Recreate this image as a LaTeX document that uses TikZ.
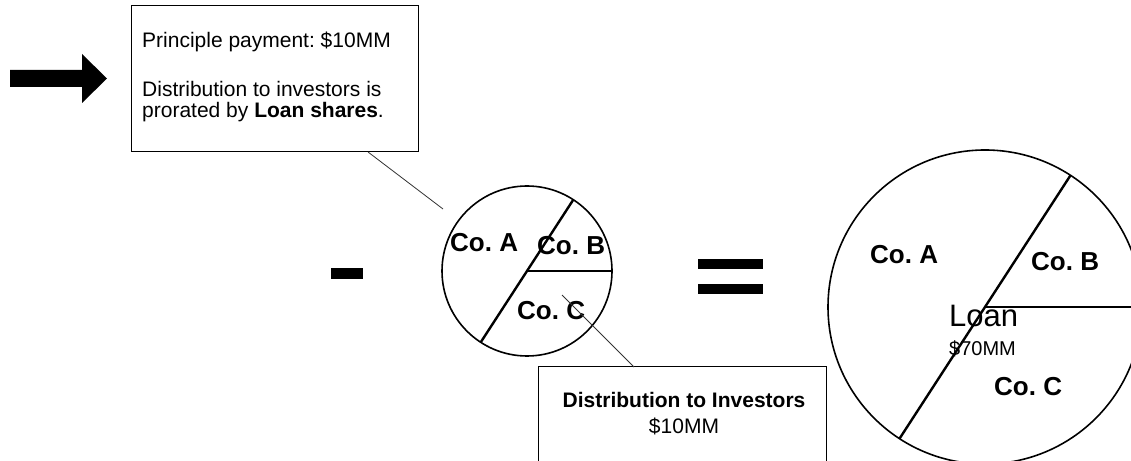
\documentclass[tikz,border=0pt]{standalone}
\usepackage{fontspec}
\setmainfont{Liberation Sans}
\usepackage{tikz}
\frenchspacing

\begin{document}
\begin{tikzpicture} [x = 1pt, y = 1pt,
  box/.style = {draw, line width = 1pt, inner sep = 0, outer sep = 0, anchor = north west},
  pie/.style = {draw, circle, line width = 1.6pt, inner sep = 0, outer sep = 0},
  cut/.style = {line width = 2.4pt},
  lead/.style = {line width = 0.8pt, black!80},
  txt/.style = {inner sep = 0, anchor = base west, font = \fontsize{21}{25}\selectfont},
  co/.style = {inner sep = 0, anchor = base west, font = \fontsize{26}{30}\selectfont\bfseries}]
\path[use as bounding box, clip] (0, 0) rectangle (1131, 460);
% arrow
\fill (10, 390) -- (82, 390) -- (82, 406) -- (107, 381.5) -- (82, 357) -- (82, 373) -- (10, 373) -- cycle;
% payment note
\node[box, minimum width = 287pt, minimum height = 146pt] (pay) at (131, 454) {};
\node[txt] (pay1) at (142, 412) {Principle payment: \$10MM};
\node[txt] (pay2) at (142, 363) {Distribution to investors is};
\node[txt] (pay3) at (142, 342) {prorated by \textbf{Loan shares}.};
% minus and equals
\fill (331, 181) rectangle (363, 192);
\fill (698, 191) rectangle (763, 201);
\fill (698, 166) rectangle (763, 176);
% small pie
\node[pie, minimum size = 170pt] (spie) at (527, 189) {};
\draw[cut] (spie.57) -- (spie.237);
\draw[line width = 1.6pt] (spie.center) -- (spie.east);
\node[co] (sa) at (450, 208) {Co. A};
\node[co] (sb) at (537, 205) {Co. B};
\node[co] (sc) at (517, 140) {Co. C};
% big pie
\node[pie, minimum size = 314pt] (bpie) at (985, 153) {};
\draw[cut] (bpie.57) -- (bpie.237);
\draw[line width = 1.6pt] (bpie.center) -- (bpie.east);
\node[co] (ba) at (870, 196) {Co. A};
\node[co] (bb) at (1031, 189) {Co. B};
\node[co] (bc) at (994, 64) {Co. C};
\node[txt, font = \fontsize{31}{35}\selectfont] (loan) at (949, 133) {Loan};
\node[txt, font = \fontsize{20}{24}\selectfont] (loanamt) at (949, 104) {\$70MM};
% distribution note
\node[box, minimum width = 288pt, minimum height = 130pt] (dist) at (538, 93) {};
\node[txt, anchor = base, font = \fontsize{21}{25}\selectfont\bfseries] (dist1) at (684, 52) {Distribution to Investors};
\node[txt, anchor = base] (dist2) at (684, 27) {\$10MM};
% leaders
\coordinate (tip1) at (443, 251);
\coordinate (tip2) at (562, 165);
\draw[lead] ([xshift = 237pt]pay.south west) -- (tip1);
\draw[lead] (tip2) -- ([xshift = 96pt]dist.north west);
\end{tikzpicture}
\end{document}
